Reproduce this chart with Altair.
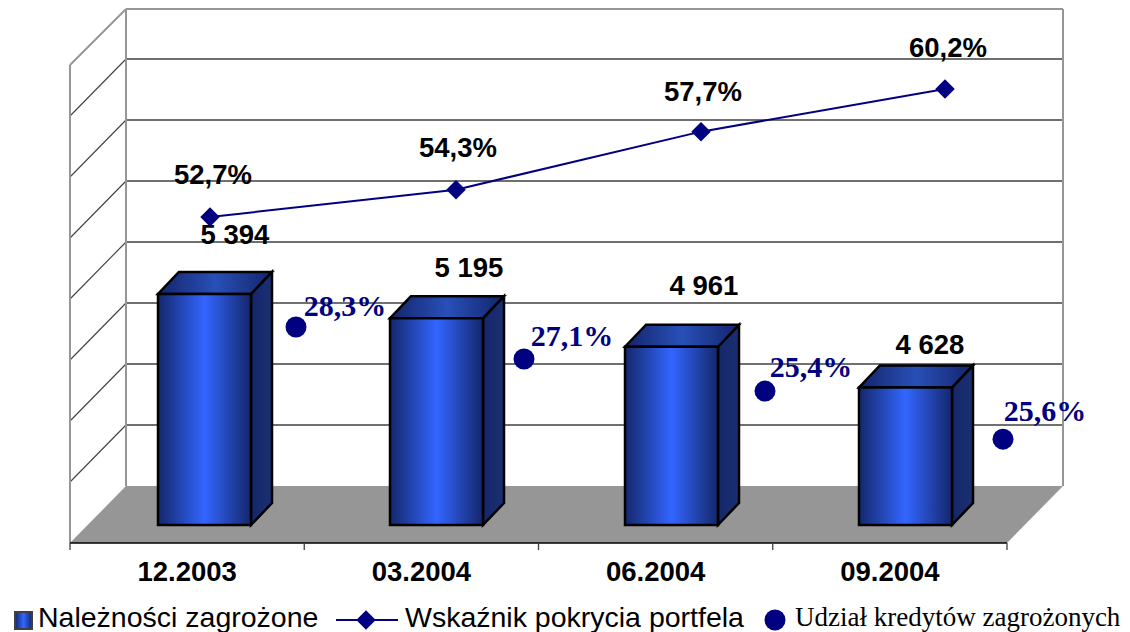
import altair as alt
import pandas as pd

# ---- values ----
categories = ["12.2003", "03.2004", "06.2004", "09.2004"]
receivables = [5394, 5195, 4961, 4628]
receivable_labels = ["5 394", "5 195", "4 961", "4 628"]
coverage = [52.7, 54.3, 57.7, 60.2]
coverage_labels = ["52,7%", "54,3%", "57,7%", "60,2%"]
share_plotted = [28.3, 27.1, 25.9, 24.1]
share_labels = ["28,3%", "27,1%", "25,4%", "25,6%"]
grid_values = [4000, 4500, 5000, 5500, 6000, 6500, 7000]
series_names = ["Należności zagrożone", "Wskaźnik pokrycia portfela", "Udział kredytów zagrożonych"]

# ---- layout (scale calibration) ----
W, H = 1114, 624
X_UNIT = 234.25   # px per category slot
V_UNIT = 0.122    # px per value unit
P_UNIT = 17.07    # px per coverage point
S_UNIT = 26.7     # px per share point
BASE = 3500


def xu(p):
    return (p - 70) / X_UNIT


def vu(p):
    return BASE + (525 - p) / V_UNIT


x_scale = alt.Scale(domain=[xu(8), xu(8 + W)], nice=False, zero=False)
v_scale = alt.Scale(domain=[vu(8 + H), vu(8)], nice=False, zero=False)
p_scale = alt.Scale(domain=[52.7 - (8 + H - 217) / P_UNIT, 52.7 + (217 - 8) / P_UNIT], nice=False, zero=False)
s_scale = alt.Scale(domain=[28.3 - (8 + H - 327) / S_UNIT, 28.3 + (327 - 8) / S_UNIT], nice=False, zero=False)


def X(f="x"):
    return alt.X(f, type="quantitative", scale=x_scale, axis=None, title=None)


def Y(f="y", s=v_scale):
    return alt.Y(f, type="quantitative", scale=s, axis=None, title=None, stack=None)


X2 = alt.X2("x2")
Y2 = alt.Y2("y2")

NAVY = "#000080"
FRAME = "#969696"
GRID = "#404040"


def grad(stops):
    return alt.Gradient(
        gradient="linear", x1=0, x2=1, y1=0, y2=0,
        stops=[alt.GradientStop(color=c, offset=o) for o, c in stops],
    )


front_fill = grad([(0, "#14276b"), (0.5, "#3366ff"), (1, "#14276b")])
top_fill = grad([(0, "#14246a"), (0.5, "#2850b8"), (1, "#14246a")])
side_fill = grad([(0, "#14276b"), (1, "#1a2f70")])

# ---- derived tables ----
bar_left_px = [158, 390, 625, 859]
bar_w_px = 93
side_dx, side_dy = 21, 22

fronts, tops, sides = [], [], []
for i, (v, lp) in enumerate(zip(receivables, bar_left_px)):
    l, r = xu(lp), xu(lp + bar_w_px)
    d = side_dx / X_UNIT
    h = side_dy / V_UNIT
    fronts.append({"x": l, "x2": r, "y": v, "y2": BASE})
    tops += [{"b": i, "y": v, "x": l, "x2": r}, {"b": i, "y": v + h, "x": l + d, "x2": r + d}]
    sides += [{"b": i, "x": r, "y": v, "y2": BASE}, {"b": i, "x": r + d, "y": v + h, "y2": BASE + h}]

back_bottom, front_bottom = 486, 543
floor = pd.DataFrame([
    {"y": vu(back_bottom), "x": xu(126), "x2": xu(1063)},
    {"y": vu(front_bottom), "x": xu(70), "x2": xu(1007)},
])

grid_px = [525 - 39 - (g - BASE) * V_UNIT for g in grid_values]
grid_back = pd.DataFrame({"x": xu(126), "x2": xu(1063), "y": [vu(p) for p in grid_px]})
grid_side = pd.DataFrame({"x": xu(70), "x2": xu(126), "y": [vu(p + 57) for p in grid_px], "y2": [vu(p) for p in grid_px]})

frame_lines = pd.DataFrame([
    {"x": xu(126), "x2": xu(1063), "y": vu(9), "y2": vu(9)},
    {"x": xu(126), "x2": xu(126), "y": vu(9), "y2": vu(486)},
    {"x": xu(1063), "x2": xu(1063), "y": vu(9), "y2": vu(486)},
    {"x": xu(70), "x2": xu(70), "y": vu(65), "y2": vu(543)},
    {"x": xu(70), "x2": xu(126), "y": vu(65), "y2": vu(9)},
])
axis_line = pd.DataFrame([{"x": 0, "x2": 4, "y": vu(543), "y2": vu(543)}])
ticks = pd.DataFrame({"x": [0, 1, 2, 3, 4], "y": vu(543), "y2": vu(550)})

line_x = [xu(p) for p in [210, 456, 701, 945]]
dot_x = [xu(p) for p in [296, 524, 765, 1003]]
line_df = pd.DataFrame({"x": line_x, "y": coverage})
dot_df = pd.DataFrame({"x": dot_x, "y": share_plotted})

black_labels = pd.DataFrame({
    "x": [xu(p) for p in [213, 458, 703, 948, 235, 469, 704, 930]],
    "y": [vu(p) for p in [176, 149, 93, 49, 236, 269, 287, 346]],
    "t": coverage_labels + receivable_labels,
})
blue_labels = pd.DataFrame({
    "x": [xu(p) for p in [345, 572, 811, 1045]],
    "y": [vu(p) for p in [307, 337, 368, 412]],
    "t": share_labels,
})
cat_labels = pd.DataFrame({"x": [i + 0.5 for i in range(4)], "y": vu(573), "t": categories})

leg_y = vu(620)
leg_swatch = pd.DataFrame([{"x": xu(15), "x2": xu(32), "y": vu(612), "y2": vu(629)}])
leg_line = pd.DataFrame([{"x": xu(336), "x2": xu(398), "y": leg_y}])
leg_diamond = pd.DataFrame([{"x": xu(366), "y": leg_y}])
leg_dot = pd.DataFrame([{"x": xu(775), "y": leg_y}])
leg_text_y = vu(617.5)
leg_text_a = pd.DataFrame({"x": [xu(38), xu(405)], "y": leg_text_y, "t": series_names[:2]})
leg_text_b = pd.DataFrame({"x": [xu(795)], "y": leg_text_y, "t": series_names[2:]})

SANS = "Liberation Sans"
SERIF = "Liberation Serif"

layers = [
    alt.Chart(floor).mark_area(orient="horizontal", color=FRAME).encode(x=X(), x2=X2, y=Y()),
    alt.Chart(grid_back).mark_rule(color=GRID, strokeWidth=1.3).encode(x=X(), x2=X2, y=Y()),
    alt.Chart(grid_side).mark_rule(color=GRID, strokeWidth=1.1).encode(x=X(), x2=X2, y=Y(), y2=Y2),
    alt.Chart(frame_lines).mark_rule(color=FRAME, strokeWidth=2).encode(x=X(), x2=X2, y=Y(), y2=Y2),
    alt.Chart(axis_line).mark_rule(color="#000000", strokeWidth=1.3).encode(x=X(), x2=X2, y=Y(), y2=Y2),
    alt.Chart(ticks).mark_rule(color="#404040", strokeWidth=1.3).encode(x=X(), y=Y(), y2=Y2),
    alt.Chart(pd.DataFrame(sides)).mark_area(color=side_fill, stroke="#000000", strokeWidth=2.5).encode(
        x=X(), y=Y(), y2=Y2, detail="b:N"),
    alt.Chart(pd.DataFrame(tops)).mark_area(orient="horizontal", color=top_fill, stroke="#000000", strokeWidth=2.5).encode(
        x=X(), x2=X2, y=Y(), detail="b:N"),
    alt.Chart(pd.DataFrame(fronts)).mark_rect(color=front_fill, stroke="#000000", strokeWidth=2.5).encode(
        x=X(), x2=X2, y=Y(), y2=Y2),
    alt.Chart(line_df).mark_line(color=NAVY, strokeWidth=2).encode(x=X(), y=Y(s=p_scale)),
    alt.Chart(line_df).mark_point(shape="diamond", filled=True, color=NAVY, size=380, opacity=1).encode(
        x=X(), y=Y(s=p_scale)),
    alt.Chart(dot_df).mark_point(shape="circle", filled=True, color=NAVY, size=441, opacity=1).encode(
        x=X(), y=Y(s=s_scale)),
    alt.Chart(black_labels).mark_text(font=SANS, fontWeight="bold", fontSize=27.5, color="#000000",
                                      align="center", baseline="middle").encode(x=X(), y=Y(), text="t:N"),
    alt.Chart(blue_labels).mark_text(font=SERIF, fontWeight="bold", fontSize=30, color=NAVY,
                                     align="center", baseline="middle").encode(x=X(), y=Y(), text="t:N"),
    alt.Chart(cat_labels).mark_text(font=SANS, fontWeight="bold", fontSize=27.5, color="#000000",
                                    align="center", baseline="middle").encode(x=X(), y=Y(), text="t:N"),
    alt.Chart(leg_swatch).mark_rect(color=front_fill, stroke="#404040", strokeWidth=2).encode(
        x=X(), x2=X2, y=Y(), y2=Y2),
    alt.Chart(leg_line).mark_rule(color=NAVY, strokeWidth=2).encode(x=X(), x2=X2, y=Y()),
    alt.Chart(leg_diamond).mark_point(shape="diamond", filled=True, color=NAVY, size=380, opacity=1).encode(
        x=X(), y=Y()),
    alt.Chart(leg_dot).mark_point(shape="circle", filled=True, color=NAVY, size=441, opacity=1).encode(
        x=X(), y=Y()),
    alt.Chart(leg_text_a).mark_text(font=SANS, fontSize=28.5, color="#000000", align="left",
                                    baseline="middle").encode(x=X(), y=Y(), text="t:N"),
    alt.Chart(leg_text_b).mark_text(font=SERIF, fontSize=27, color="#000000", align="left",
                                    baseline="middle").encode(x=X(), y=Y(), text="t:N"),
]

chart = (
    alt.layer(*layers)
    .resolve_scale(y="independent")
    .properties(width=W, height=H, padding=0, autosize=alt.AutoSizeParams(type="none"), background="#ffffff")
    .configure_view(stroke=None)
)

chart.save("out.html", embed_options={"renderer": "svg", "actions": False})
